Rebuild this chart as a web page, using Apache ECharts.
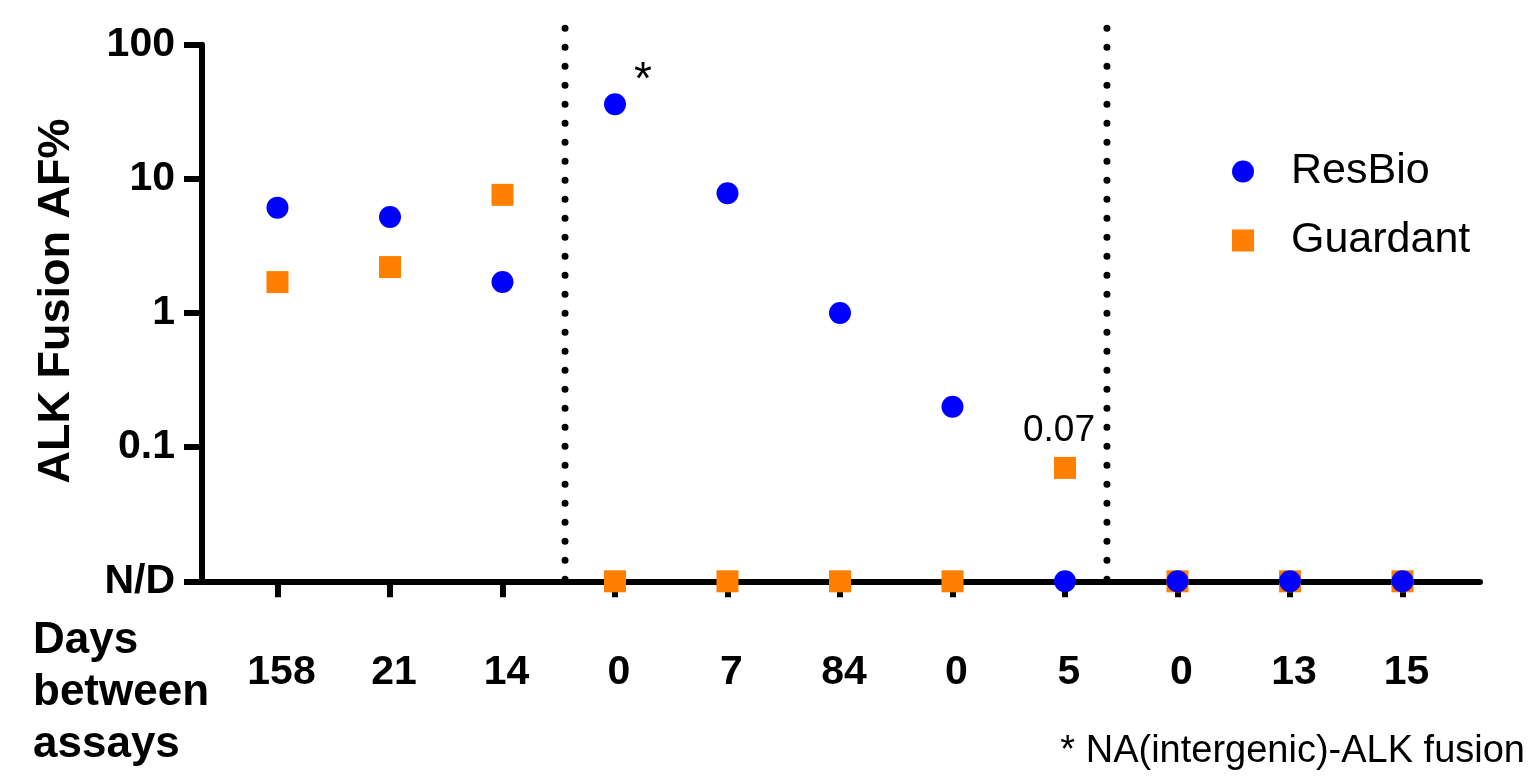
<!DOCTYPE html>
<html>
<head>
<meta charset="utf-8">
<script src="https://cdn.jsdelivr.net/npm/echarts@6/dist/echarts.min.js"></script>
<style>
html,body{margin:0;padding:0;background:#fff;}
#chart{width:1530px;height:779px;}
</style>
</head>
<body>
<div id="chart"></div>
<script>
// ---- data ----
const ND = 0.01; // "N/D" (not detected) plotted at axis floor
const positions = [1, 2, 3, 4, 5, 6, 7, 8, 9, 10, 11];
const daysBetween = ['158', '21', '14', '0', '7', '84', '0', '5', '0', '13', '15'];
const resBio   = [6.1, 5.2, 1.7, 36, 7.8, 1.0, 0.2, ND, ND, ND, ND];
const guardant = [1.7, 2.2, 7.6, ND, ND, ND, ND, 0.07, ND, ND, ND];
const separators = [3.556, 8.373];

const FONT = "'Liberation Sans', Arial, sans-serif";
const chart = echarts.init(document.getElementById('chart'));

function pts(arr) { return arr.map((v, i) => [positions[i], v]); }

const resData = pts(resBio);
resData[3] = {
  value: resData[3],
  label: { show: true, formatter: '*', position: [39, -12], align: 'center', verticalAlign: 'middle',
           fontFamily: FONT, fontSize: 46, color: '#000' }
};
const guaData = pts(guardant);
guaData[7] = {
  value: guaData[7],
  label: { show: true, formatter: p => String(p.value[1]), position: 'top', distance: 8, offset: [-6, 0],
           fontFamily: FONT, fontSize: 37, color: '#000' }
};

const option = {
  animation: false,
  backgroundColor: '#fff',
  grid: { left: 202, right: 50, top: 44.7, bottom: 197.7, containLabel: false },
  xAxis: {
    type: 'value', min: 0.329, max: 11.689,
    splitLine: { show: false },
    axisLine: { show: true, onZero: false, lineStyle: { color: '#000', width: 6 } },
    axisTick: { show: true, customValues: positions, length: 16, lineStyle: { color: '#000', width: 6 } },
    axisLabel: { show: true, customValues: positions, margin: 71, padding: [0, 0, 0, 8],
      formatter: v => daysBetween[Math.round(v) - 1] || '',
      fontFamily: FONT, fontSize: 41, fontWeight: 'bold', color: '#000' }
  },
  yAxis: {
    type: 'log', logBase: 10, min: 0.01, max: 100,
    splitLine: { show: false },
    axisLine: { show: true, lineStyle: { color: '#000', width: 6 } },
    axisTick: { show: true, length: 18, lineStyle: { color: '#000', width: 6 } },
    minorTick: { show: false },
    axisLabel: { margin: 27,
      formatter: v => (v < 0.05 ? 'N/D' : (v >= 1 ? String(Math.round(v)) : String(+v.toFixed(2)))),
      fontFamily: FONT, fontSize: 41, fontWeight: 'bold', color: '#000' }
  },
  legend: {
    orient: 'vertical', left: 1227, top: 145,
    data: [{ name: 'ResBio', icon: 'circle' }, { name: 'Guardant', icon: 'path://M0 0H10V10H0Z' }],
    itemWidth: 86, itemHeight: 22, itemGap: 26, symbolKeepAspect: true,
    textStyle: { fontFamily: FONT, fontSize: 43, color: '#000', lineHeight: 42 }
  },
  series: [
    {
      name: 'Guardant', type: 'scatter', symbol: 'rect', symbolSize: 22, clip: false,
      itemStyle: { color: '#FF8000', opacity: 1 },
      data: guaData
    },
    {
      name: 'ResBio', type: 'scatter', symbol: 'circle', symbolSize: 22, clip: false,
      itemStyle: { color: '#0000FF', opacity: 1 },
      data: resData
    }
  ],
  graphic: [
    { type: 'text', x: 57, y: 301, rotation: Math.PI / 2,
      style: { text: 'ALK Fusion AF%', font: "bold 45px " + FONT, fill: '#000', align: 'center', verticalAlign: 'middle' } },
    { type: 'text', x: 33, y: 615,
      style: { text: 'Days\nbetween\nassays', font: "bold 44px " + FONT, fill: '#000', lineHeight: 52, align: 'left', verticalAlign: 'top' } },
    { type: 'text', x: 1525, y: 752,
      style: { text: '* NA(intergenic)-ALK fusion', font: "38px " + FONT, fill: '#000', align: 'right', verticalAlign: 'middle' } }
  ]
};
chart.setOption(option);

// dotted separator lines, placed through the chart's own x scale
const yBottom = chart.convertToPixel({ yAxisIndex: 0 }, ND);
const sepGraphics = separators.map((sx, i) => {
  const px = chart.convertToPixel({ xAxisIndex: 0 }, sx);
  return {
    type: 'line', id: 'sep' + i, z: 1, silent: true,
    shape: { x1: px, y1: yBottom - 2, x2: px, y2: 26 },
    style: { stroke: '#000', lineWidth: 7, lineDash: [0, 19], lineCap: 'round' }
  };
});
chart.setOption({ graphic: option.graphic.concat(sepGraphics) });
</script>
</body>
</html>
